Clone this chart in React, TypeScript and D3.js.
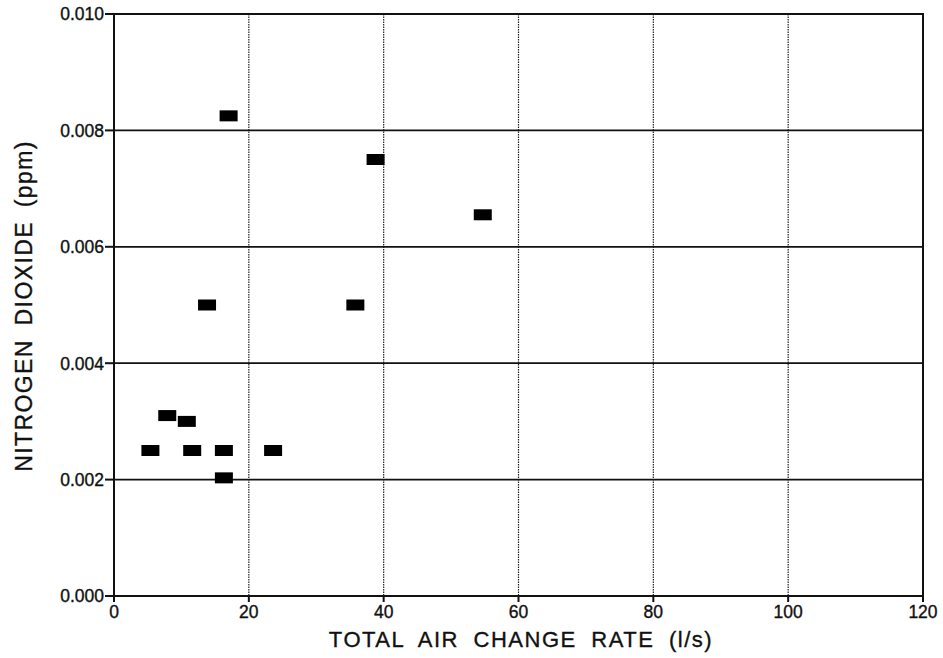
import React from "react";
import * as d3 from "d3";

const airChangeRate = [17.0, 38.8, 54.7, 13.8, 35.8, 7.9, 10.8, 5.4, 11.6, 16.3, 23.6, 16.3];
const no2 = [0.00825, 0.0075, 0.00655, 0.005, 0.005, 0.0031, 0.003, 0.0025, 0.0025, 0.0025, 0.0025, 0.00203];
const xTicks = [0, 20, 40, 60, 80, 100, 120];
const yTicks = [0, 0.002, 0.004, 0.006, 0.008, 0.01];

const W = 943, H = 658;
const left = 114, right = 923, top = 14, bottom = 596;

export default function App() {
  const x = d3.scaleLinear().domain([0, 120]).range([left, right]);
  const y = d3.scaleLinear().domain([0, 0.01]).range([bottom, top]);
  const font = "'Liberation Sans', Arial, sans-serif";
  return (
    <svg width={W} height={H} style={{ position: "absolute", left: 0, top: 0 }}>
      <rect width={W} height={H} fill="#fff" />
      {xTicks.slice(1, -1).map((t) => (
        <line key={"vx" + t} x1={x(t)} x2={x(t)} y1={top} y2={bottom} stroke="#222" strokeWidth={1.2} strokeDasharray="1.5 1" />
      ))}
      {yTicks.slice(1, -1).map((t) => (
        <line key={"hy" + t} x1={left} x2={right} y1={y(t)} y2={y(t)} stroke="#111" strokeWidth={1.8} />
      ))}
      <rect x={left} y={top} width={right - left} height={bottom - top} fill="none" stroke="#111" strokeWidth={2} />
      {yTicks.map((t) => (
        <g key={"yt" + t}>
          <line x1={left - 9} x2={left} y1={y(t)} y2={y(t)} stroke="#111" strokeWidth={2} />
          <text x={left - 10} y={y(t)} dy="0.36em" textAnchor="end" fontFamily={font} fontSize={17.5} fill="#111" stroke="#111" strokeWidth={0.35}>
            {d3.format(".3f")(t)}
          </text>
        </g>
      ))}
      {xTicks.map((t) => (
        <g key={"xt" + t}>
          <line x1={x(t)} x2={x(t)} y1={bottom} y2={bottom + 6} stroke="#111" strokeWidth={2} />
          <text x={x(t)} y={bottom + 22} textAnchor="middle" fontFamily={font} fontSize={17.5} fill="#111" stroke="#111" strokeWidth={0.35}>
            {t}
          </text>
        </g>
      ))}
      {airChangeRate.map((v, i) => (
        <rect key={"p" + i} x={x(v) - 9} y={y(no2[i]) - 5.5} width={18} height={11} fill="#000" />
      ))}
      <text x={521} y={647} textAnchor="middle" fontFamily={font} fontSize={22} fill="#111" stroke="#111" strokeWidth={0.35} style={{ wordSpacing: "7px", letterSpacing: "1.5px" }}>
        TOTAL AIR CHANGE RATE (l/s)
      </text>
      <text transform={`translate(32, 306) rotate(-90)`} textAnchor="middle" fontFamily={font} fontSize={23} fill="#111" stroke="#111" strokeWidth={0.35} style={{ wordSpacing: "6px", letterSpacing: "1.4px" }}>
        NITROGEN DIOXIDE (ppm)
      </text>
    </svg>
  );
}
